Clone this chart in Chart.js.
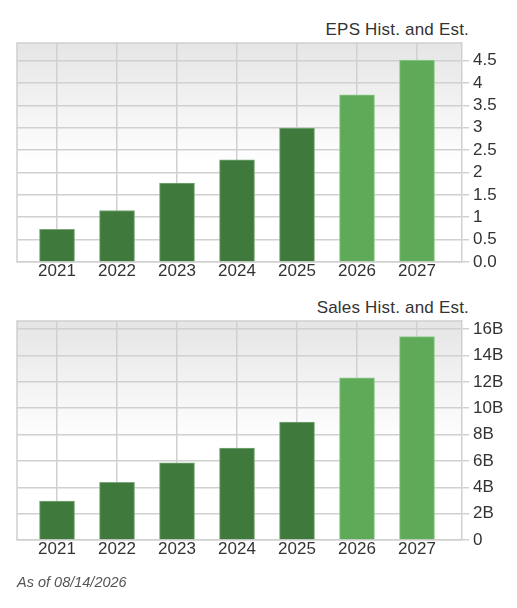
<!DOCTYPE html>
<html>
<head>
<meta charset="utf-8">
<style>
html, body { margin: 0; padding: 0; background: #fff; }
#wrap { position: relative; width: 517px; height: 608px; overflow: hidden; font-family: "Liberation Sans", Arial, sans-serif; }
canvas { position: absolute; left: 0; }
.title { position: absolute; right: 48px; font-size: 17px; color: #333; letter-spacing: 0.2px; }
#asof { position: absolute; left: 17px; top: 574px; font-size: 14.5px; font-style: italic; color: #555; }
</style>
<script src="https://cdn.jsdelivr.net/npm/chart.js@4"></script>
</head>
<body>
<div id="wrap">
  <div class="title" style="top:20px">EPS Hist. and Est.</div>
  <canvas id="epsChart" width="517" height="290" style="top:0"></canvas>
  <div class="title" style="top:298px">Sales Hist. and Est.</div>
  <canvas id="salesChart" width="517" height="290" style="top:278px"></canvas>
  <div id="asof">As of 08/14/2026</div>
</div>
<script>
var years = [2021, 2022, 2023, 2024, 2025, 2026, 2027];
var epsValues = [0.73, 1.15, 1.76, 2.28, 2.99, 3.73, 4.51];
var salesValues = [2.95, 4.38, 5.85, 6.97, 8.94, 12.31, 15.43];
var epsTicks = [0, 0.5, 1, 1.5, 2, 2.5, 3, 3.5, 4, 4.5];
var epsTickLabels = ["0.0", "0.5", "1", "1.5", "2", "2.5", "3", "3.5", "4", "4.5"];
var salesTicks = [0, 2, 4, 6, 8, 10, 12, 14, 16];
var salesTickLabels = ["0", "2B", "4B", "6B", "8B", "10B", "12B", "14B", "16B"];

var dark = '#3f7a3c';
var light = '#5eaa58';
var gridColor = '#d0d0d0';

// gray fade behind the plot, plus the top and left frame lines
var plotBackground = {
  id: 'plotBackground',
  beforeDraw: function(chart) {
    var a = chart.chartArea;
    var ctx = chart.ctx;
    var g = ctx.createLinearGradient(0, a.top, 0, a.bottom);
    g.addColorStop(0, '#e5e5e5');
    g.addColorStop(0.55, '#ffffff');
    g.addColorStop(1, '#ffffff');
    ctx.fillStyle = g;
    ctx.fillRect(a.left, a.top, a.right - a.left, a.bottom - a.top);
    ctx.strokeStyle = gridColor;
    ctx.lineWidth = 1.5;
    ctx.beginPath();
    ctx.moveTo(a.left, a.bottom);
    ctx.lineTo(a.left, a.top);
    ctx.lineTo(a.right, a.top);
    ctx.stroke();
  }
};

function makeChart(id, values, ticks, tickLabels, yMax) {
  return new Chart(document.getElementById(id).getContext('2d'), {
    type: 'bar',
    data: {
      datasets: [{
        data: years.map(function(y, i) { return { x: y, y: values[i] }; }),
        backgroundColor: years.map(function(y) { return y >= 2026 ? light : dark; }),
        borderColor: years.map(function(y) { return y >= 2026 ? '#8fcb8a' : '#7aa878'; }),
        borderWidth: 1,
        barThickness: 35
      }]
    },
    plugins: [plotBackground],
    options: {
      responsive: false,
      animation: false,
      layout: { padding: { left: 17, top: 43, right: 0, bottom: 0 } },
      plugins: { legend: { display: false }, tooltip: { enabled: false }, title: { display: false } },
      scales: {
        x: {
          type: 'linear',
          offset: false,
          min: 2020.333,
          max: 2027.75,
          afterBuildTicks: function(axis) {
            axis.ticks = years.map(function(y) { return { value: y }; });
          },
          afterFit: function(axis) { axis.height = 28; },
          grid: { offset: false, color: gridColor, lineWidth: 1.5, drawTicks: false },
          border: { color: gridColor, width: 1.5 },
          ticks: {
            autoSkip: false, maxRotation: 0, padding: -1,
            color: '#333', font: { family: '"Liberation Sans"', size: 17 },
            callback: function(v) { return String(v); }
          }
        },
        y: {
          position: 'right',
          min: 0,
          max: yMax,
          afterBuildTicks: function(axis) {
            axis.ticks = ticks.map(function(v) { return { value: v }; });
          },
          afterFit: function(axis) { axis.width = 55; },
          grid: { color: gridColor, lineWidth: 1.5, tickLength: 7 },
          border: { color: gridColor, width: 1.5 },
          ticks: {
            autoSkip: false, padding: 4,
            color: '#333', font: { family: '"Liberation Sans"', size: 17 },
            callback: function(v) { return tickLabels[ticks.indexOf(v)]; }
          }
        }
      }
    }
  });
}

makeChart('epsChart', epsValues, epsTicks, epsTickLabels, 4.89);
makeChart('salesChart', salesValues, salesTicks, salesTickLabels, 16.62);
</script>
</body>
</html>
